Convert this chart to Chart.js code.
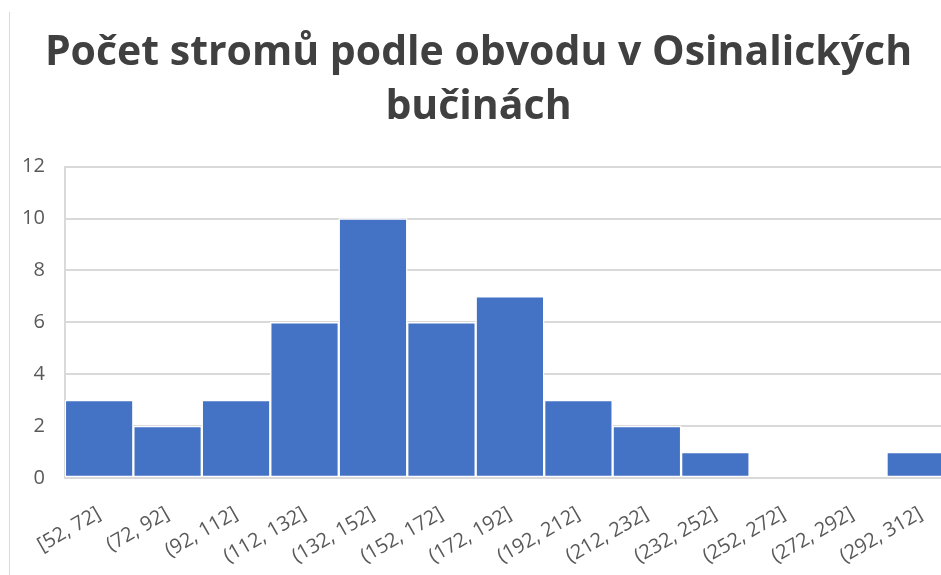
<!DOCTYPE html>
<html lang="cs">
<head>
<meta charset="utf-8">
<title>Počet stromů podle obvodu</title>
<script src="https://cdn.jsdelivr.net/npm/chart.js@4.4.1/dist/chart.umd.min.js"></script>
<style>
  html, body { margin: 0; padding: 0; background: #fff; }
  body { width: 941px; height: 575px; overflow: hidden; position: relative; }
  .frame { position: absolute; left: 9px; top: 12px; width: 1px; height: 563px; background: #d9d9d9; }
  .wrap { position: absolute; left: 0; top: 0; width: 955px; height: 575px; }
</style>
</head>
<body>
<div class="frame"></div>
<div class="wrap"><canvas id="hist"></canvas></div>
<script>
  // intervaly obvodu kmene (cm) a počet stromů v každém z nich
  const intervals = ['[52, 72]', '(72, 92]', '(92, 112]', '(112, 132]', '(132, 152]', '(152, 172]',
    '(172, 192]', '(192, 212]', '(212, 232]', '(232, 252]', '(252, 272]', '(272, 292]', '(292, 312]'];
  const counts = [3, 2, 3, 6, 10, 6, 7, 3, 2, 1, 0, 0, 1];
  const yTicks = [0, 2, 4, 6, 8, 10, 12];

  const barColor = '#4472c4';
  const textColor = '#595959';
  const gridColor = '#d9d9d9';

  const canvas = document.getElementById('hist');
  canvas.width = 955;
  canvas.height = 575;

  new Chart(canvas, {
    type: 'bar',
    data: {
      labels: intervals,
      datasets: [{
        data: counts,
        backgroundColor: barColor,
        borderColor: '#ffffff',
        borderWidth: 1.5,
        borderSkipped: false,
        barPercentage: 1,
        categoryPercentage: 1,
      }],
    },
    options: {
      responsive: false,
      animation: false,
      layout: { padding: { left: 2, right: 0, top: 0, bottom: 0 } },
      plugins: {
        legend: { display: false },
        tooltip: { enabled: false },
        title: {
          display: true,
          text: ['Počet stromů podle obvodu v Osinalických', 'bučinách'],
          color: '#404040',
          font: { family: '"Open Sans", sans-serif', size: 41, weight: 'bold', lineHeight: 1.3 },
          padding: { top: 27, bottom: 33 },
        },
      },
      scales: {
        x: {
          grid: { display: false },
          border: { color: gridColor, width: 2 },
          // pevná výška osy, popisky jsou otočené
          afterFit: axis => { axis.height = 97; },
          ticks: {
            color: textColor,
            font: { family: '"Open Sans", sans-serif', size: 20 },
            minRotation: 30,
            maxRotation: 30,
            padding: 16,
          },
        },
        y: {
          min: 0,
          max: 12,
          afterBuildTicks: axis => { axis.ticks = yTicks.map(v => ({ value: v })); },
          grid: { color: gridColor, lineWidth: 2, drawTicks: false },
          border: { color: gridColor, width: 2 },
          ticks: {
            color: textColor,
            font: { family: '"Open Sans", sans-serif', size: 20 },
            padding: 20,
          },
        },
      },
    },
  });
</script>
</body>
</html>
